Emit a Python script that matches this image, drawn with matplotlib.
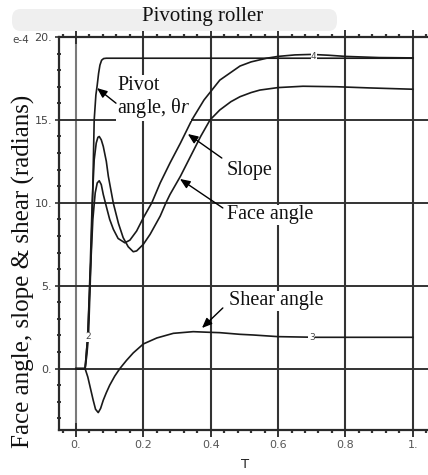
import matplotlib
matplotlib.use("Agg")
import matplotlib.pyplot as plt
from matplotlib.patches import FancyBboxPatch
from matplotlib.ticker import MultipleLocator, FixedLocator

plt.rcParams["mathtext.fontset"] = "custom"
plt.rcParams["mathtext.it"] = "Liberation Serif:italic"
plt.rcParams["mathtext.rm"] = "Liberation Serif"

# ---- data (units of 1e-4 rad) ----
t_pivot = [0.0, 0.027, 0.032, 0.037, 0.042, 0.049, 0.054, 0.059, 0.063, 0.067,
           0.071, 0.076, 0.082, 0.09, 1.0]
pivot = [0.0, 0.0, 0.8, 1.93, 5.0, 10.0, 15.0, 16.5, 17.1, 17.8,
         18.3, 18.6, 18.7, 18.72, 18.72]

t_slope = [0.0, 0.027, 0.035, 0.042, 0.05, 0.057, 0.063, 0.069, 0.075, 0.081,
           0.091, 0.1, 0.111, 0.125, 0.145, 0.16, 0.18, 0.2, 0.225, 0.25,
           0.279, 0.31, 0.344, 0.38, 0.427, 0.487, 0.52, 0.566, 0.6, 0.65,
           0.7, 0.75, 0.8, 0.9, 1.0]
slope = [0.0, 0.0, 2.0, 5.5, 9.0, 10.6, 11.2, 11.33, 11.1, 10.5,
         9.7, 9.0, 8.4, 7.85, 7.59, 7.75, 8.3, 9.1, 10.0, 11.2,
         12.4, 13.6, 15.0, 16.2, 17.4, 18.25, 18.5, 18.72, 18.83, 18.92,
         18.95, 18.9, 18.83, 18.76, 18.74]

t_face = [0.0, 0.027, 0.035, 0.042, 0.048, 0.054, 0.06, 0.065, 0.069, 0.075,
          0.081, 0.09, 0.096, 0.111, 0.126, 0.14, 0.155, 0.17, 0.18, 0.2,
          0.22, 0.25, 0.267, 0.279, 0.31, 0.34, 0.37, 0.398, 0.427, 0.46,
          0.487, 0.52, 0.546, 0.6, 0.674, 0.774, 0.87, 1.0]
face = [0.0, 0.0, 2.0, 6.0, 10.0, 12.6, 13.6, 13.95, 14.0, 13.8,
        13.4, 12.5, 11.6, 9.96, 8.76, 7.9, 7.35, 7.05, 7.1, 7.5,
        8.1, 9.2, 10.0, 10.5, 11.6, 12.8, 14.0, 15.0, 15.6, 16.1,
        16.4, 16.65, 16.8, 16.95, 17.03, 17.0, 16.93, 16.85]

t_shear = [0.0, 0.027, 0.035, 0.043, 0.051, 0.058, 0.066, 0.073, 0.081, 0.09,
           0.1, 0.115, 0.13, 0.15, 0.17, 0.2, 0.24, 0.289, 0.348, 0.398,
           0.427, 0.487, 0.526, 0.6, 0.714, 0.85, 1.0]
shear = [0.0, 0.0, -0.5, -1.2, -1.9, -2.45, -2.65, -2.4, -1.9, -1.45,
         -1.0, -0.45, 0.0, 0.5, 0.95, 1.49, 1.85, 2.13, 2.23, 2.19,
         2.17, 2.07, 2.03, 1.93, 1.89, 1.89, 1.89]

x_ticks = [0.0, 0.2, 0.4, 0.6, 0.8, 1.0]
x_tick_labels = ["0.", "0.2", "0.4", "0.6", "0.8", "1."]
y_ticks = [0, 5, 10, 15, 20]
y_tick_labels = ["0.", "5.", "10.", "15.", "20."]

W, H = 428, 475
fig = plt.figure(figsize=(W / 100, H / 100), dpi=100)

# soft grey band behind the title
fig.patches.append(FancyBboxPatch((12 / W, 1 - 31 / H), 325 / W, 22 / H,
                                  boxstyle="round,pad=0,rounding_size=0.02",
                                  transform=fig.transFigure, fc="#efefef",
                                  ec="none", zorder=0))

ax = fig.add_axes([59 / W, 45 / H, 374 / W, 393 / H])
ax.set_xlim(-0.0505, 1.06)
ax.set_ylim(-3.7, 20)

spine_c = "#2a2a2a"
for s in ("left", "bottom", "top"):
    ax.spines[s].set_color(spine_c)
    ax.spines[s].set_linewidth(1.6)
ax.spines["right"].set_visible(False)

# grid
for xv in x_ticks:
    ax.axvline(xv, color="#7a7a7a" if xv == 0 else "#333333", lw=1.5, zorder=1)
for yv in y_ticks[:-1]:
    ax.axhline(yv, color="#333333", lw=1.4, zorder=1)

ax.xaxis.set_major_locator(FixedLocator(x_ticks))
ax.set_xticklabels(x_tick_labels)
ax.xaxis.set_minor_locator(MultipleLocator(0.04))
ax.yaxis.set_major_locator(FixedLocator(y_ticks))
ax.set_yticklabels(y_tick_labels)
ax.yaxis.set_minor_locator(MultipleLocator(1))
ax.tick_params(axis="x", which="major", direction="inout", length=10, width=1.4,
               color="#333333", labelsize=8, labelcolor="#555555", pad=2,
               top=True)
ax.tick_params(axis="x", which="minor", direction="out", length=2.5, width=1.6,
               color="#333333", top=True)
ax.tick_params(axis="y", which="major", direction="out", length=3, width=1.2,
               color="#333333", labelsize=8, labelcolor="#444444", pad=2)
ax.tick_params(axis="y", which="minor", direction="inout", length=3, width=1.4,
               color="#333333")
for lab in ax.get_xticklabels() + ax.get_yticklabels():
    lab.set_family("DejaVu Sans")

fig.text(12 / W, 1 - 40 / H, "e-4", fontsize=7.5, color="#444444",
         va="center", ha="left")

lc = "#1a1a1a"
ax.plot(t_pivot, pivot, color=lc, lw=1.2, zorder=3)
ax.plot(t_slope, slope, color=lc, lw=1.2, zorder=3)
ax.plot(t_face, face, color=lc, lw=1.2, zorder=3)
ax.plot(t_shear, shear, color=lc, lw=1.2, zorder=3)

# curve numbers
for tx, ty, s in [(0.037, 1.93, "2"), (0.70, 1.89, "3"), (0.706, 18.8, "4")]:
    ax.text(tx, ty, s, fontsize=6.5, color="#444444", ha="center", va="center",
            bbox=dict(fc="white", ec="none", pad=0.3), zorder=4)

serif = "Liberation Serif"
fig.text(203 / W, 1 - 16 / H, "Pivoting roller", family=serif, fontsize=15,
         ha="center", va="center", color="#111111")
fig.text(245 / W, 1 - 465 / H, "T", fontsize=9.5, color="#222222",
         ha="center", va="center")
fig.text(23 / W, 1 - 271 / H, "Face angle, slope & shear (radians)",
         family=serif, fontsize=18, rotation=90, ha="center", va="center",
         color="#111111")

ann_font = dict(family=serif, fontsize=14.5, color="#111111", ha="left",
                va="center", zorder=5)
box = dict(fc="white", ec="none", pad=0.5)
arrow = dict(arrowstyle="-|>,head_length=0.6,head_width=0.25", color="black",
             lw=1.0, shrinkA=0, shrinkB=0)

ax.text(0.1217, 17.1, "Pivot", bbox=box, **ann_font)
ax.text(0.1217, 15.72, "angle, θ$r$", bbox=box, **ann_font)
ax.text(0.448, 11.97, "Slope", bbox=box, **ann_font)
ax.text(0.448, 9.27, "Face angle", bbox=box, **ann_font)
ax.text(0.454, 4.08, "Shear angle", bbox=box, **ann_font)

for head, tail in [((0.0623, 16.92), (0.1187, 16.01)),
                   ((0.332, 14.15), (0.433, 12.70)),
                   ((0.3086, 11.44), (0.436, 9.69)),
                   ((0.374, 2.45), (0.436, 3.66))]:
    ax.annotate("", xy=head, xytext=tail, arrowprops=arrow, zorder=6)

fig.savefig("out.png", dpi=100)
